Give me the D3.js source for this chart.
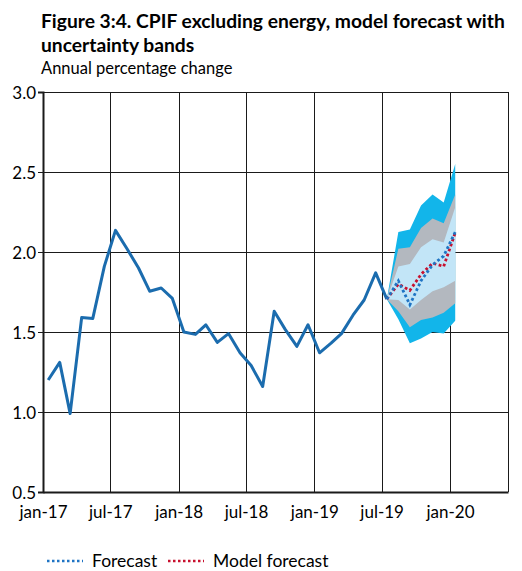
<!DOCTYPE html>
<html>
<head>
<meta charset="utf-8">
<script src="https://cdn.jsdelivr.net/npm/d3@7"></script>
<style>
  body { margin: 0; background: #fff; }
  text { font-family: Lato, "Open Sans", sans-serif; fill: #000; }
</style>
</head>
<body>
<div id="chart"></div>
<script>
// historical CPIF excl. energy, monthly jan-17 .. jul-19
const histMonths = ["2017-01","2017-02","2017-03","2017-04","2017-05","2017-06","2017-07","2017-08","2017-09","2017-10","2017-11","2017-12",
  "2018-01","2018-02","2018-03","2018-04","2018-05","2018-06","2018-07","2018-08","2018-09","2018-10","2018-11","2018-12",
  "2019-01","2019-02","2019-03","2019-04","2019-05","2019-06","2019-07"];
const histValues = [1.20, 1.31, 0.99, 1.59, 1.585, 1.91, 2.135, 2.02, 1.90, 1.755, 1.775, 1.71,
  1.50, 1.485, 1.545, 1.435, 1.49, 1.37, 1.29, 1.16, 1.63, 1.515, 1.41, 1.545,
  1.37, 1.43, 1.49, 1.605, 1.70, 1.87, 1.705];

// forecast period jul-19 .. jan-20
const fcMonths = ["2019-07","2019-08","2019-09","2019-10","2019-11","2019-12","2020-01"];
const forecast = [1.705, 1.82, 1.67, 1.82, 1.92, 1.975, 2.125];
const modelForecast = [1.705, 1.80, 1.76, 1.86, 1.93, 1.91, 2.12];

// uncertainty bands
const outerLow  = [1.705, 1.58, 1.43, 1.46, 1.50, 1.49, 1.57];
const outerHigh = [1.705, 2.125, 2.14, 2.29, 2.36, 2.31, 2.55];
const midLow    = [1.705, 1.63, 1.53, 1.575, 1.59, 1.62, 1.68];
const midHigh   = [1.705, 2.02, 2.03, 2.15, 2.21, 2.18, 2.36];
const innerLow  = [1.705, 1.70, 1.64, 1.70, 1.755, 1.78, 1.82];
const innerHigh = [1.705, 1.91, 1.925, 2.03, 2.08, 2.06, 2.28];

const xTickDates = ["2017-01","2017-07","2018-01","2018-07","2019-01","2019-07","2020-01"];
const xTickLabels = ["jan-17","jul-17","jan-18","jul-18","jan-19","jul-19","jan-20"];
const yTicks = [0.5, 1.0, 1.5, 2.0, 2.5, 3.0];

const W = 522, H = 571;
const plot = { left: 43, right: 508, top: 92, bottom: 492 };

const parseMonth = d3.timeParse("%Y-%m");
const midMonth = s => d3.timeDay.offset(parseMonth(s), 14);

const svg = d3.select("#chart").append("svg")
  .attr("width", W).attr("height", H);

const x = d3.scaleTime()
  .domain([new Date(2017, 0, 1), new Date(2020, 5, 5)])
  .range([plot.left, plot.right]);
const y = d3.scaleLinear().domain([0.5, 3.0]).range([plot.bottom, plot.top]);

// titles
const title1 = svg.append("text").attr("x", 41).attr("y", 28)
  .style("font-weight", "bold").style("font-size", "17px")
  .text("Figure 3:4. CPIF excluding energy, model forecast with");
// fit title to original width
const tw = title1.node().getComputedTextLength();
const titleSize = 17 * 464 / tw;
title1.style("font-size", titleSize + "px");
svg.append("text").attr("x", 41).attr("y", 52)
  .style("font-weight", "bold").style("font-size", titleSize + "px")
  .text("uncertainty bands");
svg.append("text").attr("x", 41).attr("y", 74)
  .style("font-size", "16.5px")
  .text("Annual percentage change");

// gridlines
const grid = svg.append("g").attr("stroke", "#1a1a1a").attr("stroke-width", 1);
grid.selectAll(".hg").data(yTicks.filter(v => v > 0.5)).enter().append("line")
  .attr("x1", plot.left - 5).attr("x2", plot.right)
  .attr("y1", d => Math.round(y(d)) + 0.5).attr("y2", d => Math.round(y(d)) + 0.5);
grid.selectAll(".vg").data(xTickDates.slice(1)).enter().append("line")
  .attr("x1", d => Math.round(x(parseMonth(d))) + 0.5).attr("x2", d => Math.round(x(parseMonth(d))) + 0.5)
  .attr("y1", plot.top).attr("y2", plot.bottom);
grid.append("line").attr("x1", plot.right + 0.5).attr("x2", plot.right + 0.5)
  .attr("y1", plot.top).attr("y2", plot.bottom);

// uncertainty bands
const fcDates = fcMonths.map(midMonth);
const band = (lo, hi) => d3.area()
  .x((d, i) => x(fcDates[i]))
  .y0((d, i) => y(lo[i]))
  .y1((d, i) => y(hi[i]))(fcDates);
svg.append("path").attr("d", band(outerLow, outerHigh)).attr("fill", "#12b5ea");
svg.append("path").attr("d", band(midLow, midHigh)).attr("fill", "#b3b8bf");
svg.append("path").attr("d", band(innerLow, innerHigh)).attr("fill", "#c2e5f7");

// axes
svg.append("g")
  .attr("transform", `translate(0,${plot.bottom})`)
  .call(d3.axisBottom(x).tickValues(xTickDates.map(parseMonth)).tickSize(0)
    .tickFormat((d, i) => xTickLabels[i]))
  .call(g => g.select(".domain").attr("stroke", "#1a1a1a").attr("stroke-width", 2))
  .call(g => g.selectAll("text").attr("y", 14).attr("dy", "0.71em")
    .style("font-size", "17px").style("font-family", "Lato, sans-serif").attr("fill", "#000"));

svg.append("g")
  .attr("transform", `translate(${plot.left},0)`)
  .call(d3.axisLeft(y).tickValues(yTicks).tickSize(5).tickPadding(2).tickFormat(d3.format(".1f")))
  .call(g => g.select(".domain").attr("stroke", "#1a1a1a").attr("stroke-width", 2))
  .call(g => g.selectAll(".tick line").attr("stroke", "#1a1a1a"))
  .call(g => g.selectAll("text").attr("dy", "0.36em")
    .style("font-size", "17px").style("font-family", "Lato, sans-serif").attr("fill", "#000"));

// historical line
const hist = histMonths.map((m, i) => ({ d: midMonth(m), v: histValues[i] }));
const line = d3.line().x(p => x(p.d)).y(p => y(p.v));
svg.append("path").datum(hist).attr("d", line)
  .attr("fill", "none").attr("stroke", "#1b6cae").attr("stroke-width", 3)
  .attr("stroke-linejoin", "round");

// forecast lines
const fcLine = vals => line(fcDates.map((d, i) => ({ d: d, v: vals[i] })));
svg.append("path").attr("d", fcLine(modelForecast))
  .attr("fill", "none").attr("stroke", "#c8102e").attr("stroke-width", 2.8)
  .attr("stroke-dasharray", "2.8,2.5");
svg.append("path").attr("d", fcLine(forecast))
  .attr("fill", "none").attr("stroke", "#1f74c4").attr("stroke-width", 2.8)
  .attr("stroke-dasharray", "2.8,2.5");

// legend
const legend = svg.append("g").attr("transform", "translate(0,561)");
const items = [
  { label: "Forecast", color: "#1f74c4", x0: 47 },
  { label: "Model forecast", color: "#c8102e", x0: 168 }
];
items.forEach(it => {
  legend.append("line").attr("x1", it.x0).attr("x2", it.x0 + 36)
    .attr("y1", 0).attr("y2", 0)
    .attr("stroke", it.color).attr("stroke-width", 2.5).attr("stroke-dasharray", "2.5,2.5");
  legend.append("text").attr("x", it.x0 + 45).attr("y", 6)
    .style("font-size", "17.5px").text(it.label);
});
</script>
</body>
</html>
